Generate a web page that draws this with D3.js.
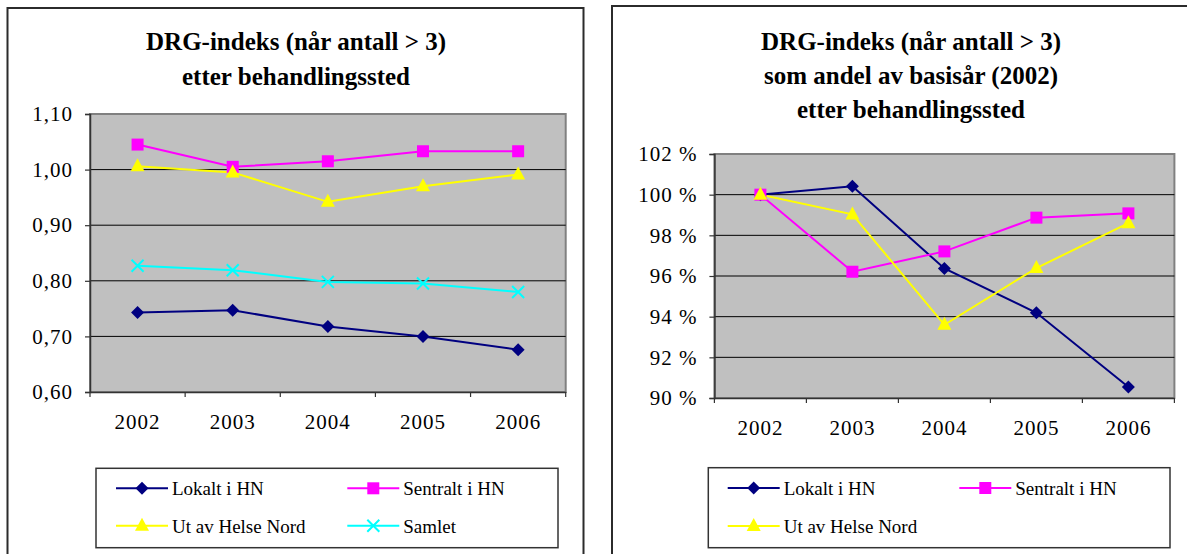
<!DOCTYPE html>
<html>
<head>
<meta charset="utf-8">
<script src="https://cdn.jsdelivr.net/npm/d3@7"></script>
<style>
  html, body { margin: 0; padding: 0; background: #fff; }
  svg { display: block; }
  text { font-family: "Liberation Serif", "Times New Roman", serif; fill: #000; }
</style>
</head>
<body>
<svg id="chart" width="1187" height="554"></svg>
<script>
// ---------- data ----------
const years = ["2002", "2003", "2004", "2005", "2006"];

// left chart: DRG index
const lokalt   = [0.743, 0.747, 0.718, 0.700, 0.676];
const sentralt = [1.045, 1.005, 1.015, 1.033, 1.033];
const utAv     = [1.006, 0.995, 0.942, 0.970, 0.991];
const samlet   = [0.827, 0.819, 0.798, 0.795, 0.780];
const leftTicks = [0.60, 0.70, 0.80, 0.90, 1.00, 1.10];

// right chart: share of base year (2002), in %
const lokaltPct   = [100, 100.41, 96.37, 94.19, 90.54];
const sentraltPct = [100, 96.21, 97.21, 98.87, 99.08];
const utAvPct     = [100, 99.03, 93.60, 96.39, 98.60];
const rightTicks  = [90, 92, 94, 96, 98, 100, 102];

const seriesNames = ["Lokalt i HN", "Sentralt i HN", "Ut av Helse Nord", "Samlet"];
const leftTitle  = ["DRG-indeks (når antall > 3)", "etter behandlingssted"];
const rightTitle = ["DRG-indeks (når antall > 3)", "som andel av basisår (2002)", "etter behandlingssted"];

// ---------- styles ----------
const styles = {
  "Lokalt i HN":      { color: "#000080", marker: "diamond" },
  "Sentralt i HN":    { color: "#FF00FF", marker: "square" },
  "Ut av Helse Nord": { color: "#FFFF00", marker: "triangle" },
  "Samlet":           { color: "#00FFFF", marker: "x" }
};

const svg = d3.select("#chart");

function drawMarker(g, type, color) {
  if (type === "diamond") {
    g.append("path").attr("d", "M0,-6.5L6.5,0L0,6.5L-6.5,0Z").attr("fill", color);
  } else if (type === "square") {
    g.append("rect").attr("x", -6).attr("y", -6).attr("width", 12).attr("height", 12).attr("fill", color);
  } else if (type === "triangle") {
    g.append("path").attr("d", "M0,-8L7,5L-7,5Z").attr("fill", color);
  } else if (type === "x") {
    g.append("path").attr("d", "M-6,-6L6,6M-6,6L6,-6").attr("stroke", color).attr("stroke-width", 2).attr("fill", "none");
  }
}

function drawChart(cfg) {
  const g = svg.append("g");
  // outer frame
  g.append("rect")
    .attr("x", cfg.frame[0]).attr("y", cfg.frame[1])
    .attr("width", cfg.frame[2]).attr("height", cfg.frame[3])
    .attr("fill", "#fff").attr("stroke", "#2b2b2b").attr("stroke-width", 2);

  // title
  cfg.title.forEach((t, i) => {
    g.append("text")
      .attr("x", cfg.titleX).attr("y", cfg.titleY + i * cfg.titleGap)
      .attr("text-anchor", "middle")
      .attr("font-weight", "bold")
      .attr("font-size", 25)
      .text(t);
  });

  const x = d3.scaleBand().domain(years).range(cfg.xRange).padding(0);
  const y = d3.scaleLinear().domain(cfg.yDomain).range(cfg.yRange);

  // plot area
  g.append("rect")
    .attr("x", cfg.xRange[0]).attr("y", cfg.yRange[1])
    .attr("width", cfg.xRange[1] - cfg.xRange[0])
    .attr("height", cfg.yRange[0] - cfg.yRange[1])
    .attr("fill", "#C0C0C0").attr("stroke", "#808080").attr("stroke-width", 2);

  // gridlines
  g.selectAll(null)
    .data(cfg.ticks.filter(t => t !== cfg.yDomain[0] && t !== cfg.yDomain[1]))
    .enter().append("line")
    .attr("x1", cfg.xRange[0]).attr("x2", cfg.xRange[1])
    .attr("y1", d => y(d)).attr("y2", d => y(d))
    .attr("stroke", "#000").attr("stroke-width", 1);

  // y axis
  const yAxis = d3.axisLeft(y).tickValues(cfg.ticks).tickFormat(cfg.fmt).tickSize(5).tickPadding(12);
  const ya = g.append("g").attr("transform", `translate(${cfg.xRange[0]},0)`).call(yAxis);
  ya.select(".domain").attr("stroke", "#333").attr("stroke-width", 1.5);
  ya.selectAll(".tick line").attr("stroke", "#333").attr("stroke-width", 1.2);
  ya.selectAll(".tick text")
    .attr("font-family", "Liberation Serif, Times New Roman, serif")
    .attr("font-size", 21).attr("letter-spacing", "1px").attr("fill", "#000");

  // x axis (ticks at category boundaries)
  const xAxis = d3.axisBottom(x).tickSize(0).tickPadding(22);
  const xa = g.append("g").attr("transform", `translate(0,${cfg.yRange[0]})`).call(xAxis);
  xa.select(".domain").attr("stroke", "#333").attr("stroke-width", 1.5);
  xa.selectAll(".tick text")
    .attr("font-family", "Liberation Serif, Times New Roman, serif")
    .attr("font-size", 21).attr("letter-spacing", "1px").attr("fill", "#000");
  const bounds = years.map(d => x(d)).concat([x(years[years.length - 1]) + x.bandwidth()]);
  g.selectAll(null).data(bounds).enter().append("line")
    .attr("x1", d => d).attr("x2", d => d)
    .attr("y1", cfg.yRange[0]).attr("y2", cfg.yRange[0] + 5)
    .attr("stroke", "#333").attr("stroke-width", 1.2);

  // series
  const line = d3.line().x((d, i) => x(years[i]) + x.bandwidth() / 2).y(d => y(d));
  cfg.series.forEach(s => {
    const st = styles[s.name];
    g.append("path").datum(s.values)
      .attr("d", line).attr("fill", "none")
      .attr("stroke", st.color).attr("stroke-width", 2);
  });
  cfg.series.forEach(s => {
    const st = styles[s.name];
    s.values.forEach((v, i) => {
      const mg = g.append("g").attr("transform", `translate(${x(years[i]) + x.bandwidth() / 2},${y(v)})`);
      drawMarker(mg, st.marker, st.color);
    });
  });

  // legend
  const L = cfg.legend;
  g.append("rect")
    .attr("x", L.box[0]).attr("y", L.box[1]).attr("width", L.box[2]).attr("height", L.box[3])
    .attr("fill", "#fff").attr("stroke", "#333").attr("stroke-width", 1.5);
  cfg.series.forEach((s, i) => {
    const st = styles[s.name];
    const col = i % 2, row = Math.floor(i / 2);
    const lx = L.cols[col], ly = L.rows[row];
    g.append("line").attr("x1", lx).attr("x2", lx + 52).attr("y1", ly).attr("y2", ly)
      .attr("stroke", st.color).attr("stroke-width", 2);
    drawMarker(g.append("g").attr("transform", `translate(${lx + 26},${ly})`), st.marker, st.color);
    g.append("text").attr("x", lx + 56).attr("y", ly + 7)
      .attr("font-size", 19).text(s.name);
  });
}

drawChart({
  frame: [7.5, 8, 576, 560],
  title: leftTitle, titleX: 296, titleY: 50, titleGap: 35,
  xRange: [90, 565.7], yRange: [392, 114], yDomain: [0.6, 1.1],
  ticks: leftTicks, fmt: d => d3.format(".2f")(d).replace(".", ","),
  series: [
    { name: seriesNames[0], values: lokalt },
    { name: seriesNames[1], values: sentralt },
    { name: seriesNames[2], values: utAv },
    { name: seriesNames[3], values: samlet }
  ],
  legend: { box: [96, 468.3, 462, 79.4], cols: [116, 347.3], rows: [488.3, 525.7] }
});

drawChart({
  frame: [612, 6, 600, 560],
  title: rightTitle, titleX: 911, titleY: 50, titleGap: 34,
  xRange: [714.4, 1174.4], yRange: [398, 154], yDomain: [90, 102],
  ticks: rightTicks, fmt: d => d + " %",
  series: [
    { name: seriesNames[0], values: lokaltPct },
    { name: seriesNames[1], values: sentraltPct },
    { name: seriesNames[2], values: utAvPct }
  ],
  legend: { box: [708.3, 467.7, 461.7, 80], cols: [727.7, 959.3], rows: [488, 526] }
});
</script>
</body>
</html>
